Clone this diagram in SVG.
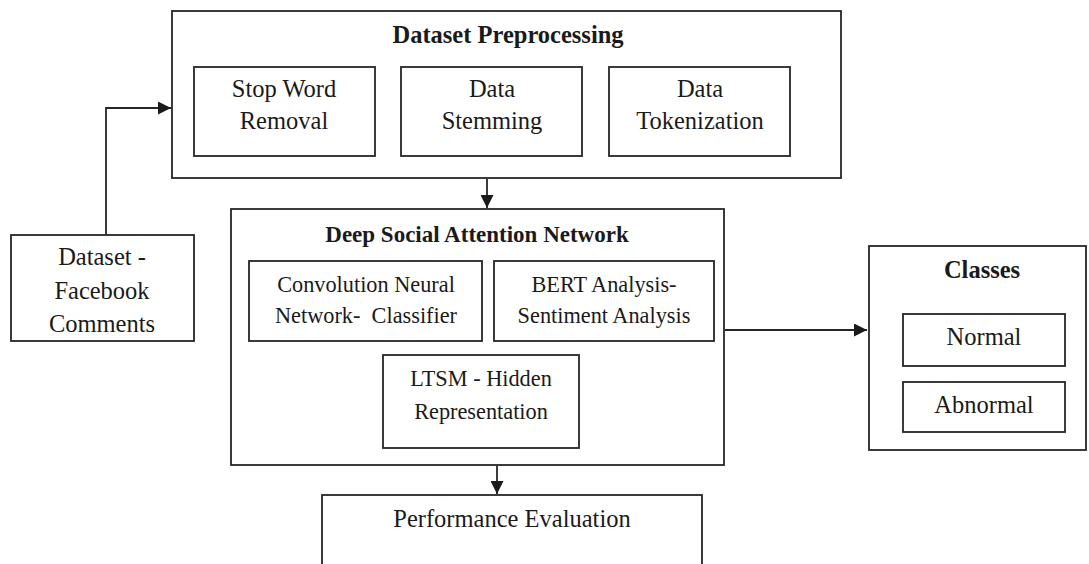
<svg xmlns="http://www.w3.org/2000/svg" width="1089" height="564" viewBox="0 0 1089 564">
<style>
rect{fill:#fff;stroke:#262626;stroke-width:1.8}
text{font-family:"Liberation Serif","Times New Roman",serif;font-size:24.5px;fill:#1a1a1a;text-anchor:middle}
.b{font-weight:bold}
.s{font-size:22.3px}
.sb{font-size:23px;font-weight:bold}
.c{fill:none;stroke:#262626;stroke-width:1.8}
</style>
<defs>
<marker id="ah" viewBox="0 0 10 10" refX="10" refY="5" markerWidth="13" markerHeight="13" markerUnits="userSpaceOnUse" orient="auto">
<path d="M0,0 L10,5 L0,10 z" fill="#1a1a1a"/>
</marker>
</defs>
<rect x="0" y="0" width="1089" height="564" style="stroke:none"/>
<g id="connectors">
<path class="c" d="M106,235 V108 H171" marker-end="url(#ah)"/>
<path class="c" d="M487,179 V208" marker-end="url(#ah)"/>
<path class="c" d="M725,330 H867" marker-end="url(#ah)"/>
<path class="c" d="M497,466 V494" marker-end="url(#ah)"/>
</g>
<g id="dataset">
<rect x="11" y="235" width="183" height="106"/>
<text x="102" y="265">Dataset -</text>
<text x="102" y="299">Facebook</text>
<text x="102" y="332">Comments</text>
</g>
<g id="preprocessing">
<rect x="172" y="11" width="669" height="167"/>
<text class="b" x="508" y="43">Dataset Preprocessing</text>
</g>
<g id="stopword">
<rect x="194" y="67" width="181" height="89"/>
<text x="284" y="97">Stop Word</text>
<text x="284" y="129">Removal</text>
</g>
<g id="stemming">
<rect x="401" y="67" width="181" height="89"/>
<text x="492" y="97">Data</text>
<text x="492" y="129">Stemming</text>
</g>
<g id="tokenization">
<rect x="609" y="67" width="181" height="89"/>
<text x="700" y="97">Data</text>
<text x="700" y="129">Tokenization</text>
</g>
<g id="dsan">
<rect x="231" y="209" width="493" height="256"/>
<text class="sb" x="477" y="242">Deep Social Attention Network</text>
</g>
<g id="cnn">
<rect x="249" y="261" width="233" height="80"/>
<text class="s" x="366" y="292">Convolution Neural</text>
<text class="s" x="366" y="323" xml:space="preserve">Network-  Classifier</text>
</g>
<g id="bert">
<rect x="494" y="261" width="220" height="80"/>
<text class="s" x="604" y="292">BERT Analysis-</text>
<text class="s" x="604" y="323">Sentiment Analysis</text>
</g>
<g id="ltsm">
<rect x="383" y="355" width="196" height="93"/>
<text class="s" x="481" y="386">LTSM - Hidden</text>
<text class="s" x="481" y="419">Representation</text>
</g>
<g id="classes">
<rect x="869" y="246" width="217" height="204"/>
<text class="b" x="982" y="278">Classes</text>
</g>
<g id="normal">
<rect x="903" y="314" width="162" height="52"/>
<text x="984" y="345">Normal</text>
</g>
<g id="abnormal">
<rect x="903" y="382" width="162" height="50"/>
<text x="984" y="413">Abnormal</text>
</g>
<g id="performance">
<rect x="322" y="495" width="380" height="80"/>
<text x="512" y="527">Performance Evaluation</text>
</g>
</svg>
